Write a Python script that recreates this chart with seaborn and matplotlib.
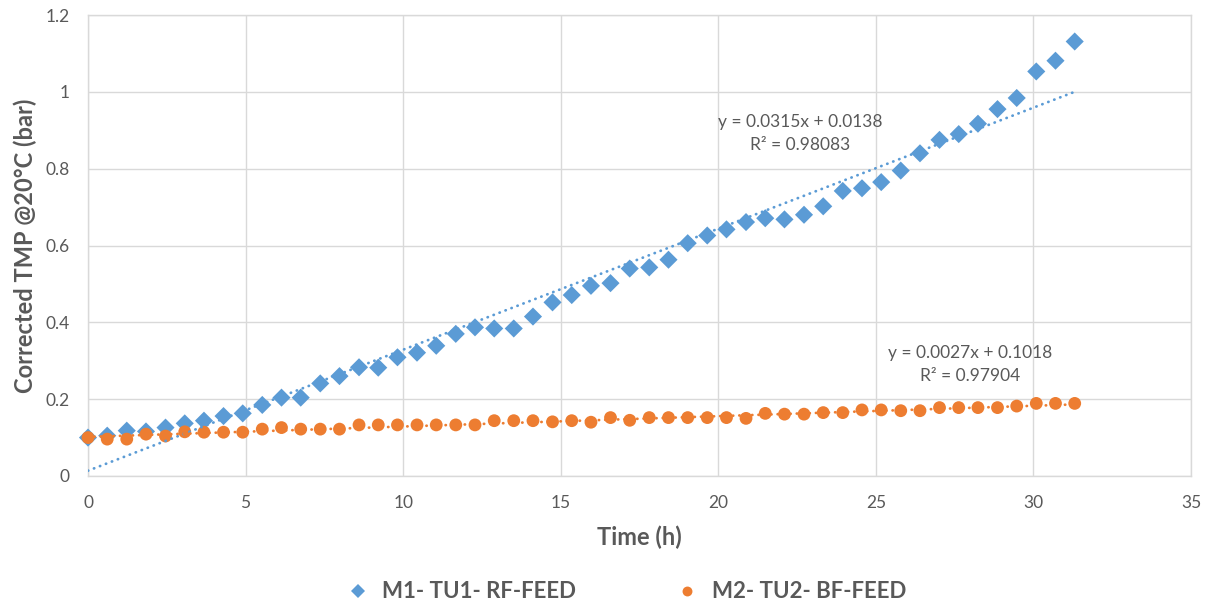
import matplotlib
matplotlib.use("Agg")
import numpy as np
import pandas as pd
import matplotlib.pyplot as plt
import seaborn as sns

# Sampling times (h)
time_h = [0.00, 0.61, 1.23, 1.84, 2.46, 3.07, 3.68, 4.30, 4.91, 5.53,
          6.14, 6.75, 7.37, 7.98, 8.60, 9.21, 9.82, 10.44, 11.05, 11.67,
          12.28, 12.89, 13.51, 14.12, 14.74, 15.35, 15.96, 16.58, 17.19, 17.81,
          18.42, 19.03, 19.65, 20.26, 20.88, 21.49, 22.10, 22.72, 23.33, 23.95,
          24.56, 25.17, 25.79, 26.40, 27.02, 27.63, 28.24, 28.86, 29.47, 30.09,
          30.70, 31.31]

# Corrected TMP @20°C (bar)
m1_tmp = [0.100, 0.105, 0.118, 0.116, 0.126, 0.137, 0.144, 0.156, 0.163, 0.185,
          0.204, 0.204, 0.241, 0.260, 0.283, 0.282, 0.309, 0.321, 0.339, 0.370,
          0.387, 0.384, 0.384, 0.415, 0.452, 0.471, 0.495, 0.502, 0.540, 0.543,
          0.563, 0.606, 0.626, 0.642, 0.661, 0.671, 0.668, 0.680, 0.702, 0.742,
          0.749, 0.765, 0.795, 0.840, 0.875, 0.890, 0.917, 0.955, 0.984, 1.053,
          1.081, 1.131]

m2_tmp = [0.100, 0.096, 0.096, 0.109, 0.104, 0.115, 0.114, 0.114, 0.114, 0.122,
          0.126, 0.122, 0.122, 0.122, 0.133, 0.133, 0.133, 0.133, 0.133, 0.133,
          0.133, 0.144, 0.144, 0.144, 0.141, 0.144, 0.140, 0.152, 0.145, 0.152,
          0.152, 0.152, 0.152, 0.152, 0.150, 0.163, 0.161, 0.161, 0.165, 0.165,
          0.172, 0.172, 0.170, 0.170, 0.178, 0.178, 0.178, 0.178, 0.182, 0.189,
          0.189, 0.189]

series_names = ["M1- TU1- RF-FEED", "M2- TU2- BF-FEED"]
series_colors = ["#5B9BD5", "#ED7D31"]

# Linear trendlines: slope, intercept, R²
m1_fit = (0.0315, 0.0138, 0.98083)
m2_fit = (0.0027, 0.1018, 0.97904)

x_ticks = [0, 5, 10, 15, 20, 25, 30, 35]
y_ticks = [0, 0.2, 0.4, 0.6, 0.8, 1.0, 1.2]
y_tick_labels = ["0", "0.2", "0.4", "0.6", "0.8", "1", "1.2"]

sns.set_theme(style="white")
plt.rcParams["font.family"] = ["Lato", "DejaVu Sans"]

TEXT = "#595959"
GRID = "#D9D9D9"

df = pd.DataFrame({
    "Time (h)": time_h * 2,
    "TMP": m1_tmp + m2_tmp,
    "Series": [series_names[0]] * len(m1_tmp) + [series_names[1]] * len(m2_tmp),
})

fig = plt.figure(figsize=(12.10, 6.04), dpi=100)
ax = fig.add_axes([88 / 1210, 1 - 476 / 604, (1191 - 88) / 1210, (476 - 15) / 604])

sns.scatterplot(
    data=df, x="Time (h)", y="TMP", hue="Series", style="Series",
    hue_order=series_names, style_order=series_names,
    palette=dict(zip(series_names, series_colors)),
    markers={series_names[0]: "D", series_names[1]: "o"},
    s=90, linewidth=0, ax=ax, zorder=3, clip_on=False,
)
# diamond vs circle marker areas
for coll, size in zip(ax.collections, [85, 105]):
    coll.set_sizes([size])

# trendlines
for fit, color in zip([m1_fit, m2_fit], series_colors):
    xs = np.array([time_h[0], time_h[-1]])
    ys = fit[0] * xs + fit[1]
    sns.lineplot(x=xs, y=ys, color=color, linewidth=2.0, ax=ax, zorder=4,
                 linestyle=(0, (0.1, 2.2)))

for line in ax.lines:
    line.set_dash_capstyle("round")

# trendline equations
eq_kw = dict(ha="center", va="center", fontsize=12.5, color=TEXT)
ax.text(22.6, 0.922, f"y = {m1_fit[0]}x + {m1_fit[1]}", **eq_kw)
ax.text(22.6, 0.862, f"R² = {m1_fit[2]}", **eq_kw)
ax.text(28.0, 0.320, f"y = {m2_fit[0]}x + {m2_fit[1]}", **eq_kw)
ax.text(28.0, 0.260, f"R² = {m2_fit[2]}", **eq_kw)

ax.set_xlim(0, 35)
ax.set_ylim(0, 1.2)
ax.set_xticks(x_ticks)
ax.set_yticks(y_ticks)
ax.set_yticklabels(y_tick_labels)
ax.tick_params(axis="both", length=0, labelsize=12.5, labelcolor=TEXT)
ax.tick_params(axis="x", pad=14)
ax.tick_params(axis="y", pad=13)
ax.grid(True, color=GRID, linewidth=1.0)
ax.set_axisbelow(True)
for sp in ax.spines.values():
    sp.set_color(GRID)
    sp.set_linewidth(1.0)

ax.set_xlabel("Time (h)", fontsize=17, fontweight="bold", color=TEXT, labelpad=10)
ax.set_ylabel("Corrected TMP @20°C (bar)", fontsize=17, fontweight="bold",
              color=TEXT, labelpad=6)

sns.move_legend(
    ax, "center", bbox_to_anchor=(0.513, 12 / 604), bbox_transform=fig.transFigure,
    ncol=2, frameon=False, title=None, markerscale=0.75,
    prop={"weight": "bold", "size": 16}, labelcolor=TEXT,
    handletextpad=0.1, columnspacing=4.0, borderpad=0,
)

fig.savefig("out.png", dpi=100, facecolor="white")
